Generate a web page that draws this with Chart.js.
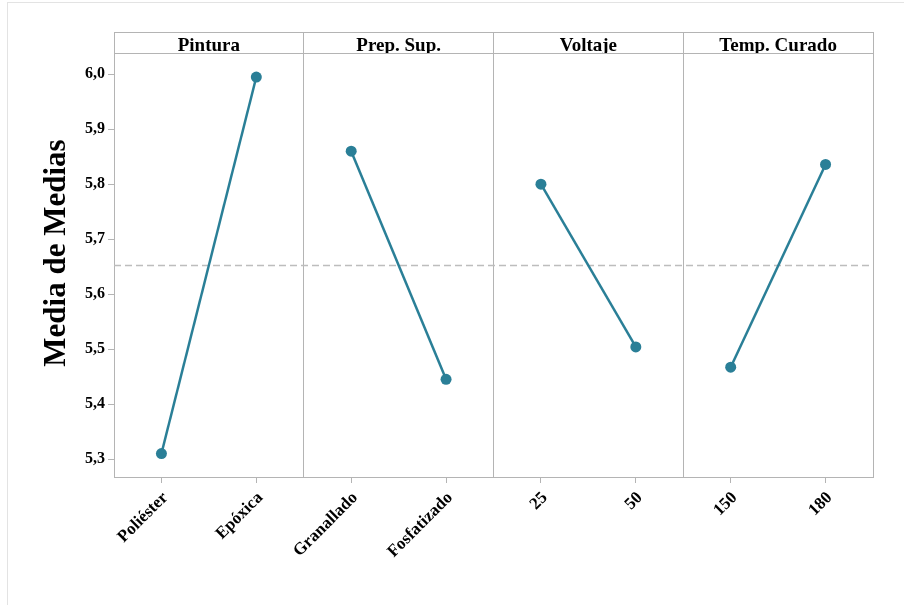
<!DOCTYPE html>
<html>
<head>
<meta charset="utf-8">
<script src="https://cdn.jsdelivr.net/npm/chart.js@4"></script>
<style>
  html, body { margin: 0; padding: 0; background: #ffffff; }
  #frame { position: absolute; left: 7px; top: 2px; width: 910px; height: 620px;
           border-left: 1px solid #e3e3e3; border-top: 1px solid #e3e3e3; }
  #c { position: absolute; left: 0; top: 0; }
</style>
</head>
<body>
<div id="frame"></div>
<canvas id="c" width="904" height="605"></canvas>
<script>
// Main-effects plot: mean of means for each factor level
const factors = ['Pintura', 'Prep. Sup.', 'Voltaje', 'Temp. Curado'];
const levels = ['Poliéster', 'Epóxica', 'Granallado', 'Fosfatizado', '25', '50', '150', '180'];
const levelFactor = [0, 0, 1, 1, 2, 2, 3, 3];
const meanValues = [5.31, 5.995, 5.86, 5.445, 5.80, 5.504, 5.467, 5.836];
const overallMean = 5.6525;
const yTickValues = [5.3, 5.4, 5.5, 5.6, 5.7, 5.8, 5.9, 6.0];
const yTitle = 'Media de Medias';

const lineColor = '#2a7f97';
const frameColor = '#b4b4b4';
const fontFamily = '"Liberation Serif", "Times New Roman", serif';

const datasets = factors.map((f, i) => ({
  label: f,
  data: meanValues.map((v, j) => levelFactor[j] === i ? v : null),
  borderColor: lineColor,
  backgroundColor: lineColor,
  borderWidth: 2.5,
  pointRadius: 5.5,
  pointHoverRadius: 5.5,
  pointBorderWidth: 0,
  spanGaps: false,
  tension: 0
}));

// Dashed reference line at the overall mean, header strip top edge and the vertical axis title
const extras = {
  id: 'extras',
  beforeDatasetsDraw(chart) {
    const { ctx, chartArea, scales } = chart;
    const y = Math.round(scales.y.getPixelForValue(overallMean)) + 0.5;
    ctx.save();
    ctx.strokeStyle = '#bdbdbd';
    ctx.lineWidth = 1.3;
    ctx.setLineDash([7, 4]);
    ctx.beginPath();
    ctx.moveTo(chartArea.left, y);
    ctx.lineTo(chartArea.right, y);
    ctx.stroke();
    ctx.restore();
  },
  afterDraw(chart) {
    const { ctx, scales } = chart;
    const s = scales.x2;
    ctx.save();
    ctx.strokeStyle = frameColor;
    ctx.lineWidth = 1;
    ctx.beginPath();
    ctx.moveTo(s.left, Math.round(s.top) + 0.5);
    ctx.lineTo(s.right + 1, Math.round(s.top) + 0.5);
    ctx.stroke();

    ctx.translate(57, 253);
    ctx.rotate(-Math.PI / 2);
    ctx.fillStyle = '#000';
    ctx.font = 'bold 31px ' + fontFamily;
    ctx.textAlign = 'center';
    ctx.textBaseline = 'middle';
    ctx.fillText(yTitle, 0, 0);
    ctx.restore();
  }
};

new Chart(document.getElementById('c'), {
  type: 'line',
  data: { labels: levels, datasets },
  plugins: [extras],
  options: {
    responsive: false,
    animation: false,
    layout: { padding: { top: 32, left: 0, right: 31, bottom: 0 } },
    plugins: { legend: { display: false }, tooltip: { enabled: false } },
    scales: {
      x: {
        type: 'category',
        position: 'bottom',
        offset: true,
        grid: { offset: false, drawOnChartArea: false, color: frameColor, tickLength: 6 },
        border: { color: frameColor, width: 1 },
        ticks: {
          autoSkip: false, minRotation: 45, maxRotation: 45, padding: 5, labelOffset: 4,
          color: '#000', font: { family: fontFamily, size: 17, weight: 'bold' }
        },
        afterFit(s) { s.height = 128; }
      },
      x2: {
        type: 'category',
        position: 'top',
        labels: factors,
        offset: true,
        grid: { offset: true, drawOnChartArea: true, color: frameColor, tickLength: 21 },
        border: { color: frameColor, width: 1 },
        ticks: {
          autoSkip: false, maxRotation: 0, minRotation: 0, padding: -25,
          color: '#000', font: { family: fontFamily, size: 19, weight: 'bold' }
        },
        afterFit(s) { s.height = 21; }
      },
      y: {
        type: 'linear',
        min: 5.2673,
        max: 6.0387,
        afterBuildTicks(s) { s.ticks = yTickValues.map(v => ({ value: v })); },
        grid: { drawOnChartArea: false, color: frameColor, tickLength: 6 },
        border: { color: frameColor, width: 1 },
        ticks: {
          padding: 3, color: '#000',
          font: { family: fontFamily, size: 16, weight: 'bold' },
          callback: v => v.toFixed(1).replace('.', ',')
        },
        afterFit(s) { s.width = 114; }
      }
    }
  }
});
</script>
</body>
</html>
